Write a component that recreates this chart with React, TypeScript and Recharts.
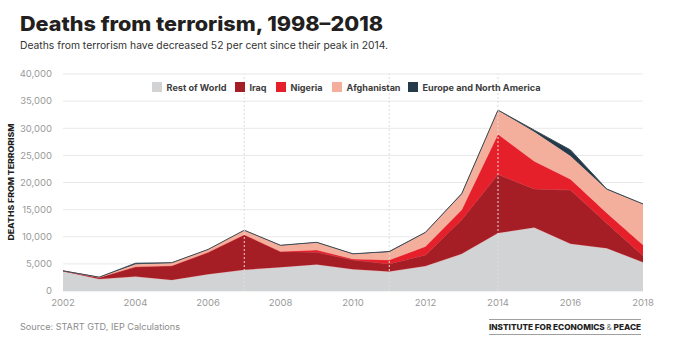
import React from 'react';
import { AreaChart, Area, XAxis, YAxis, CartesianGrid, ReferenceLine } from 'recharts';

const years = [2002, 2003, 2004, 2005, 2006, 2007, 2008, 2009, 2010, 2011, 2012, 2013, 2014, 2015, 2016, 2017, 2018];
const restOfWorld = [3650, 2200, 2650, 2050, 3100, 3900, 4400, 4900, 4000, 3600, 4600, 6850, 10700, 11700, 8700, 7900, 5300];
const iraq = [50, 300, 1800, 2600, 4000, 6450, 2850, 2250, 1700, 1400, 2050, 6300, 10800, 7100, 9900, 4600, 1200];
const nigeria = [0, 0, 20, 10, 30, 30, 50, 400, 200, 700, 1550, 1850, 7400, 5100, 2000, 1900, 2000];
const afghanistan = [0, 40, 450, 500, 500, 800, 1100, 1400, 920, 1500, 2600, 2900, 4400, 5450, 4300, 4300, 7500];
const europeNorthAmerica = [10, 10, 200, 60, 20, 20, 30, 20, 30, 80, 20, 50, 50, 300, 1100, 100, 50];

const yTicks = [0, 5000, 10000, 15000, 20000, 25000, 30000, 35000, 40000];
const xTicks = [2002, 2004, 2006, 2008, 2010, 2012, 2014, 2016, 2018];
const markerYears = [2007, 2011, 2014];

const seriesKeys = ['row', 'iraq', 'nigeria', 'afghanistan', 'europe'];
const seriesNames = ['Rest of World', 'Iraq', 'Nigeria', 'Afghanistan', 'Europe and North America'];
const seriesColors = ['#d2d3d5', '#a51d25', '#e5202b', '#f4ae9c', '#243a4b'];
const seriesStrokes = ['#e8a0a0', '#b83a40', '#ee5058', '#f2b8a8', '#3b4a55'];

const legendSwatchX = [152, 235, 276, 332, 408];
const legendTextWidth = [60, 17, 32, 54, 118];

const data = years.map((year, i) => ({
  year,
  row: restOfWorld[i],
  iraq: iraq[i],
  nigeria: nigeria[i],
  afghanistan: afghanistan[i],
  europe: europeNorthAmerica[i],
}));

const FONT = 'Inter, "Open Sans", sans-serif';

export default function App() {
  return (
    <div style={{ position: 'absolute', left: 0, top: 0, width: 700, height: 351, background: '#fff', overflow: 'hidden' }}>
      <AreaChart width={700} height={351} data={data} margin={{ top: 74, right: 57, bottom: 0, left: 13 }}>
        <CartesianGrid vertical={false} stroke="#e8e8e8" />
        <XAxis
          dataKey="year"
          type="number"
          domain={[2002, 2018]}
          ticks={xTicks}
          axisLine={false}
          tickLine={false}
          height={60}
          tick={{ fill: '#9a9a9a', fontSize: 9.5, fontFamily: FONT }}
        />
        <YAxis
          domain={[0, 40000]}
          ticks={yTicks}
          width={50}
          axisLine={false}
          tickLine={false}
          tickMargin={5}
          tickFormatter={(v: number) => v.toLocaleString('en-US')}
          tick={{ fill: '#9a9a9a', fontSize: 9.5, fontFamily: FONT }}
        />
        {seriesKeys.map((k, i) => (
          <Area
            key={k}
            type="linear"
            dataKey={k}
            stackId="1"
            fill={seriesColors[i]}
            fillOpacity={1}
            stroke={seriesStrokes[i]}
            strokeWidth={i === 4 ? 1 : 0.8}
            isAnimationActive={false}
          />
        ))}
        {markerYears.map((y) => (
          <ReferenceLine key={y} x={y} stroke="#dedede" strokeDasharray="2 2" />
        ))}
      </AreaChart>
      <svg width={700} height={351} style={{ position: 'absolute', left: 0, top: 0, pointerEvents: 'none' }}>
        <text x={20} y={31} fontFamily={FONT} fontSize={20} fontWeight={800} fill="#231f20" textLength={363} lengthAdjust="spacingAndGlyphs">
          Deaths from terrorism, 1998–2018
        </text>
        <text x={20} y={49} fontFamily={FONT} fontSize={10.5} fill="#333" textLength={368} lengthAdjust="spacingAndGlyphs">
          Deaths from terrorism have decreased 52 per cent since their peak in 2014.
        </text>
        <text
          x={0}
          y={0}
          transform="translate(11,182) rotate(-90)"
          textAnchor="middle"
          dominantBaseline="central"
          fontFamily={FONT}
          fontSize={8}
          fontWeight={800}
          fill="#231f20"
          textLength={117}
          lengthAdjust="spacingAndGlyphs"
        >
          DEATHS FROM TERRORISM
        </text>
        {seriesNames.map((name, i) => (
          <g key={name}>
            <rect x={legendSwatchX[i]} y={82} width={10} height={10} fill={seriesColors[i]} />
            <text
              x={legendSwatchX[i] + 14.5}
              y={90.5}
              fontFamily={FONT}
              fontSize={9}
              fontWeight={700}
              fill="#3d3d3d"
              textLength={legendTextWidth[i]}
              lengthAdjust="spacingAndGlyphs"
            >
              {name}
            </text>
          </g>
        ))}
        <text x={20} y={330} fontFamily={FONT} fontSize={8.5} fill="#8c8c8c" textLength={160} lengthAdjust="spacingAndGlyphs">
          Source: START GTD, IEP Calculations
        </text>
        <line x1={489} x2={641} y1={319.5} y2={319.5} stroke="#a0a0a0" strokeWidth={1.2} />
        <line x1={489} x2={641} y1={334.5} y2={334.5} stroke="#a0a0a0" strokeWidth={1.2} />
        <text x={489} y={330} fontFamily={FONT} fontSize={8} fontWeight={800} fill="#222" textLength={152} lengthAdjust="spacingAndGlyphs">
          INSTITUTE FOR ECONOMICS <tspan fontWeight={400} fill="#777">&amp;</tspan> PEACE
        </text>
      </svg>
    </div>
  );
}
